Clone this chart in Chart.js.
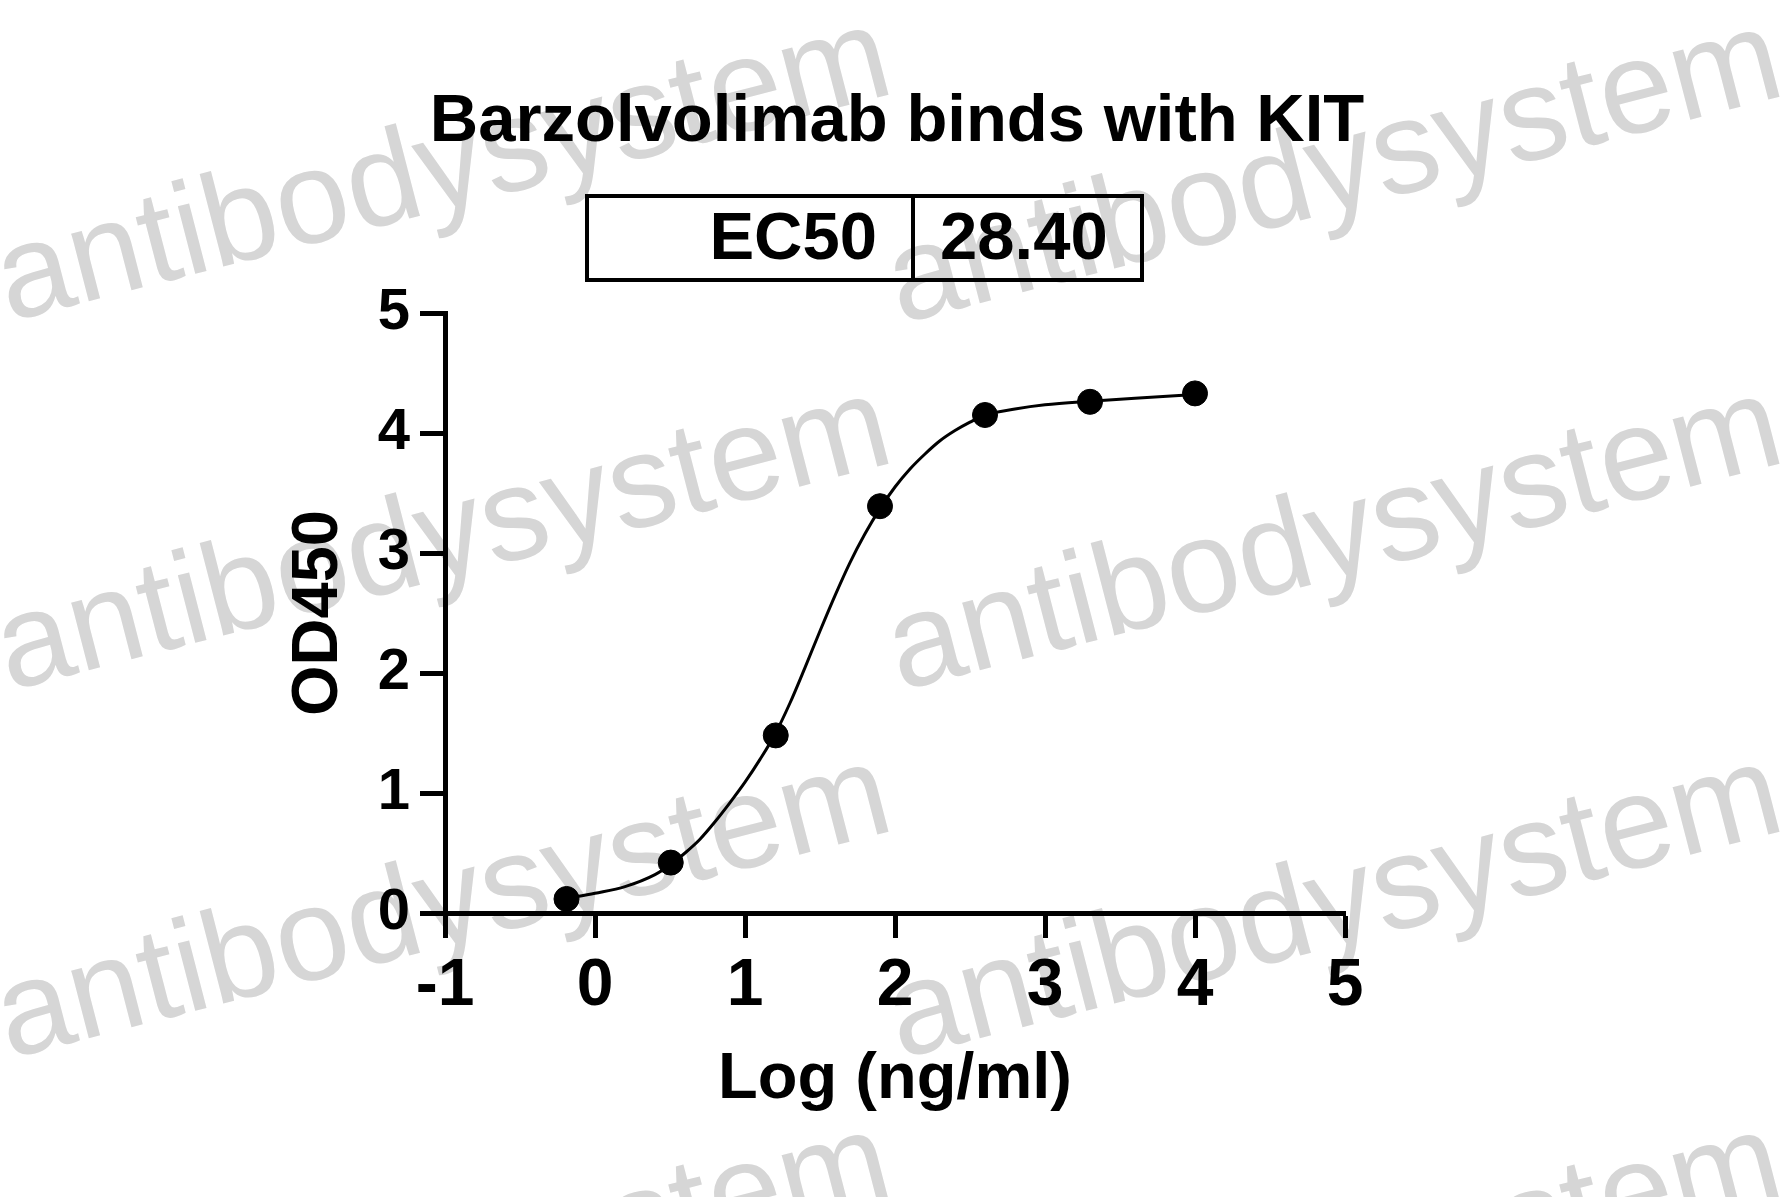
<!DOCTYPE html>
<html>
<head>
<meta charset="utf-8">
<script src="https://cdn.jsdelivr.net/npm/chart.js@4.4.1/dist/chart.umd.min.js"></script>
<style>
  html, body { margin: 0; padding: 0; background: #ffffff; }
  #c { display: block; }
</style>
</head>
<body>
<canvas id="c" width="1781" height="1197"></canvas>
<script>
// ---- data ----
const chartTitle = "Barzolvolimab binds with KIT";
const ec50Label = "EC50";
const ec50Value = "28.40";
const xTitle = "Log (ng/ml)";
const yTitle = "OD450";
const watermarkText = "antibodysystem";

// measured points: log10 concentration (ng/ml) vs OD450
const pointX = [-0.19, 0.505, 1.205, 1.90, 2.60, 3.30, 4.00];
const pointY = [0.117, 0.42, 1.48, 3.39, 4.15, 4.26, 4.33];

// fitted curve
const curveX = [-0.19, 0.0, 0.2, 0.4, 0.5, 0.6, 0.7, 0.8, 0.9, 1.0, 1.1, 1.2, 1.3, 1.4, 1.5, 1.6, 1.7, 1.8, 1.9, 2.0, 2.1, 2.2, 2.3, 2.4, 2.5, 2.6, 2.8, 3.0, 3.3, 3.6, 4.0];
const curveY = [0.12, 0.165, 0.22, 0.32, 0.40, 0.50, 0.615, 0.76, 0.92, 1.09, 1.28, 1.49, 1.75, 2.045, 2.35, 2.645, 2.92, 3.16, 3.37, 3.55, 3.70, 3.825, 3.935, 4.02, 4.09, 4.15, 4.20, 4.235, 4.265, 4.29, 4.32];

const xMin = -1, xMax = 5, xStep = 1;
const yMin = 0, yMax = 5, yStep = 1;

// ---- build chart ----
const FONT = "'Liberation Sans', Arial, Helvetica, sans-serif";

const watermarkPlugin = {
  id: 'watermark',
  beforeDraw(chart) {
    const ctx = chart.ctx;
    ctx.save();
    ctx.fillStyle = '#d6d6d6';
    ctx.font = "132px " + FONT;
    ctx.textBaseline = 'alphabetic';
    ctx.textAlign = 'left';
    const starts = [
      [9, 322], [900, 324],
      [9, 691], [900, 691],
      [9, 1059], [900, 1059],
      [9, 1427], [900, 1427]
    ];
    starts.forEach(([sx, sy]) => {
      ctx.save();
      ctx.translate(sx, sy);
      ctx.rotate(-14.5 * Math.PI / 180);
      ctx.fillText(watermarkText, 0, 0);
      ctx.restore();
    });
    ctx.restore();
  }
};

const headerPlugin = {
  id: 'header',
  afterDraw(chart) {
    const ctx = chart.ctx;
    ctx.save();
    ctx.fillStyle = '#000';
    ctx.strokeStyle = '#000';
    // title
    ctx.font = "bold 67px " + FONT;
    ctx.textAlign = 'center';
    ctx.textBaseline = 'alphabetic';
    ctx.fillText(chartTitle, 897, 141);
    // EC50 box
    ctx.lineWidth = 4;
    ctx.strokeRect(587, 196, 555, 84);
    ctx.beginPath();
    ctx.moveTo(913, 196);
    ctx.lineTo(913, 280);
    ctx.stroke();
    ctx.font = "bold 67px " + FONT;
    ctx.textAlign = 'right';
    ctx.fillText(ec50Label, 877, 259);
    ctx.textAlign = 'left';
    ctx.fillText(ec50Value, 940, 259);
    ctx.restore();
  }
};

new Chart(document.getElementById('c'), {
  type: 'scatter',
  data: {
    datasets: [
      {
        type: 'line',
        label: 'fit',
        data: curveX.map((x, i) => ({ x: x, y: curveY[i] })),
        borderColor: '#000',
        borderWidth: 3,
        pointRadius: 0,
        fill: false,
        cubicInterpolationMode: 'monotone',
        order: 2
      },
      {
        type: 'scatter',
        label: 'OD450',
        data: pointX.map((x, i) => ({ x: x, y: pointY[i] })),
        backgroundColor: '#000',
        borderColor: '#000',
        pointRadius: 12.5,
        pointHoverRadius: 12.5,
        showLine: false,
        order: 1
      }
    ]
  },
  options: {
    responsive: false,
    devicePixelRatio: 1,
    animation: false,
    layout: { padding: { top: 313, right: 436, left: 0, bottom: 0 } },
    plugins: {
      legend: { display: false },
      title: { display: false },
      tooltip: { enabled: false }
    },
    scales: {
      x: {
        type: 'linear',
        min: xMin, max: xMax,
        afterFit(scale) { scale.height = 284; },
        ticks: {
          stepSize: xStep,
          color: '#000',
          padding: 9,
          font: { family: FONT, size: 66, weight: 'bold' },
          maxRotation: 0
        },
        grid: {
          display: true, drawOnChartArea: false, drawTicks: true,
          tickLength: 25, tickWidth: 5, tickColor: '#000', color: '#000'
        },
        border: { display: true, width: 5, color: '#000' },
        title: {
          display: true, text: xTitle, color: '#000',
          font: { family: FONT, size: 65, weight: 'bold' },
          padding: { top: 0, bottom: 78 }
        }
      },
      y: {
        type: 'linear',
        min: yMin, max: yMax,
        afterFit(scale) { scale.width = 445; },
        ticks: {
          stepSize: yStep,
          color: '#000',
          padding: 10,
          font: { family: FONT, size: 58, weight: 'bold' }
        },
        grid: {
          display: true, drawOnChartArea: false, drawTicks: true,
          tickLength: 25, tickWidth: 5, tickColor: '#000', color: '#000'
        },
        border: { display: true, width: 5, color: '#000' },
        title: {
          display: true, text: yTitle, color: '#000',
          font: { family: FONT, size: 65, weight: 'bold' },
          padding: { top: 280, bottom: 0 }
        }
      }
    }
  },
  plugins: [watermarkPlugin, headerPlugin]
});
</script>
</body>
</html>
